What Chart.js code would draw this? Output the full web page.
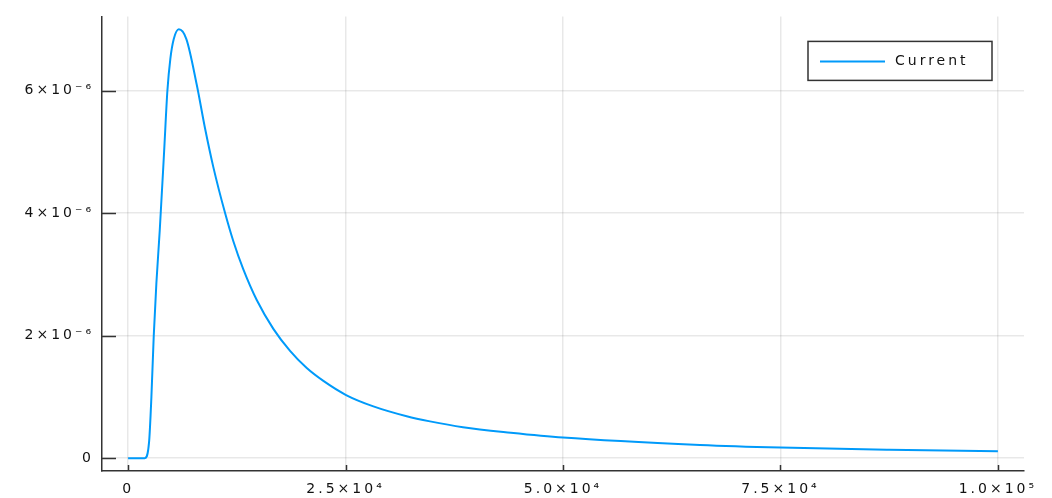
<!DOCTYPE html>
<html>
<head>
<meta charset="utf-8">
<script src="https://cdn.jsdelivr.net/npm/chart.js@4/dist/chart.umd.min.js"></script>
<style>
  html, body { margin: 0; padding: 0; background: #fff; }
  #wrap { width: 1052px; height: 498px; position: relative; }
</style>
</head>
<body>
<div id="wrap"><canvas id="myChart"></canvas></div>
<script>
// values
const seriesName = 'Current';
const timeVals = [0, 1000, 1920, 2410, 2680, 2950, 3250, 3640, 4140, 4520, 4860, 5250, 5830, 6700,
    7900, 8850, 9800, 11150, 12100, 13250, 14790, 16700, 18620, 20540, 22450, 25060, 28200, 32030, 34710,
    38500, 44000, 50000, 65750, 75000, 87500, 100000];
const currentVals = [0, 0, 0, 0.26e-6, 1.0e-6, 2.0e-6, 2.85e-6, 3.72e-6, 5.0e-6, 6.0e-6, 6.52e-6, 6.84e-6, 7.0e-6, 6.84e-6,
    6.09e-6, 5.38e-6, 4.75e-6, 4.0e-6, 3.54e-6, 3.08e-6, 2.58e-6, 2.11e-6, 1.75e-6, 1.47e-6, 1.26e-6, 1.03e-6, 0.845e-6, 0.684e-6, 0.60e-6,
    0.505e-6, 0.415e-6, 0.335e-6, 0.215e-6, 0.172e-6, 0.137e-6, 0.113e-6];

const xTicks = [0, 25000, 50000, 75000, 100000];
const xTickLabels = ['0', '2.5×10⁴', '5.0×10⁴', '7.5×10⁴', '1.0×10⁵'];
const yTicks = [0, 2e-6, 4e-6, 6e-6];
const yTickLabels = ['0', '2×10⁻⁶', '4×10⁻⁶', '6×10⁻⁶'];

const lineColor = 'rgb(0, 154, 250)';
const axisColor = '#333';
const textColor = '#111';
const fontFamily = '"DejaVu Sans", sans-serif';
const spacing = '3px';

// spaced-out text like the reference
const letterSpacer = {
    id: 'letterSpacer',
    beforeUpdate(chart) { chart.ctx.letterSpacing = spacing; },
    beforeDraw(chart) { chart.ctx.letterSpacing = spacing; }
};

// inward tick marks + legend box
const extras = {
    id: 'extras',
    afterDraw(chart) {
        const ctx = chart.ctx;
        const area = chart.chartArea;
        const xs = chart.scales.x, ys = chart.scales.y;
        ctx.save();
        ctx.strokeStyle = axisColor;
        ctx.lineWidth = 1.5;
        ctx.beginPath();
        xTicks.forEach(v => {
            const px = Math.round(xs.getPixelForValue(v)) + 0.5;
            ctx.moveTo(px, area.bottom);
            ctx.lineTo(px, area.bottom - 6);
        });
        yTicks.forEach(v => {
            const py = Math.round(ys.getPixelForValue(v)) + 0.5;
            ctx.moveTo(area.left, py);
            ctx.lineTo(area.left + 14, py);
        });
        ctx.stroke();

        // legend
        const bw = 184, bh = 39;
        const bx = area.right - 32 - bw, by = area.top + 25;
        ctx.fillStyle = '#fff';
        ctx.fillRect(bx, by, bw, bh);
        ctx.lineWidth = 1.5;
        ctx.strokeRect(bx, by, bw, bh);
        const ds = chart.data.datasets[0];
        ctx.strokeStyle = ds.borderColor;
        ctx.lineWidth = 2;
        ctx.beginPath();
        ctx.moveTo(bx + 12, by + 20);
        ctx.lineTo(bx + 77, by + 20);
        ctx.stroke();
        ctx.letterSpacing = spacing;
        ctx.fillStyle = textColor;
        ctx.font = '14px ' + fontFamily;
        ctx.textBaseline = 'middle';
        ctx.textAlign = 'left';
        ctx.fillText(ds.label, bx + 87, by + 20);
        ctx.restore();
    }
};

const ctx = document.getElementById('myChart');

const myChart = new Chart(ctx, {
    type: 'line',
    data: {
        datasets: [{
            label: seriesName,
            data: timeVals.map((t, i) => ({ x: t, y: currentVals[i] })),
            borderColor: lineColor,
            borderWidth: 2,
            pointRadius: 0,
            fill: false,
            cubicInterpolationMode: 'monotone'
        }]
    },
    options: {
        responsive: true,
        maintainAspectRatio: false,
        animation: false,
        layout: { padding: { top: 12, right: 28, left: 0, bottom: 0 } },
        plugins: {
            legend: { display: false },
            tooltip: { enabled: false }
        },
        scales: {
            x: {
                type: 'linear',
                min: -3000,
                max: 103000,
                afterBuildTicks: s => { s.ticks = xTicks.map(v => ({ value: v })); },
                afterFit: s => { s.height = 27; },
                grid: { color: 'rgba(0,0,0,0.09)', lineWidth: 1.5, drawTicks: false },
                border: { display: true, color: axisColor, width: 1.5 },
                ticks: {
                    autoSkip: false,
                    maxRotation: 0,
                    padding: 10,
                    color: textColor,
                    font: { family: fontFamily, size: 14 },
                    callback: (v, i) => xTickLabels[i]
                }
            },
            y: {
                min: -0.21e-6,
                max: 7.21e-6,
                afterBuildTicks: s => { s.ticks = yTicks.map(v => ({ value: v })); },
                afterFit: s => { s.width = 102; },
                grid: { color: 'rgba(0,0,0,0.09)', lineWidth: 1.5, drawTicks: false },
                border: { display: true, color: axisColor, width: 1.5 },
                ticks: {
                    padding: 8,
                    color: textColor,
                    font: { family: fontFamily, size: 14 },
                    callback: (v, i) => yTickLabels[i]
                }
            }
        }
    },
    plugins: [letterSpacer, extras]
});
</script>
</body>
</html>
